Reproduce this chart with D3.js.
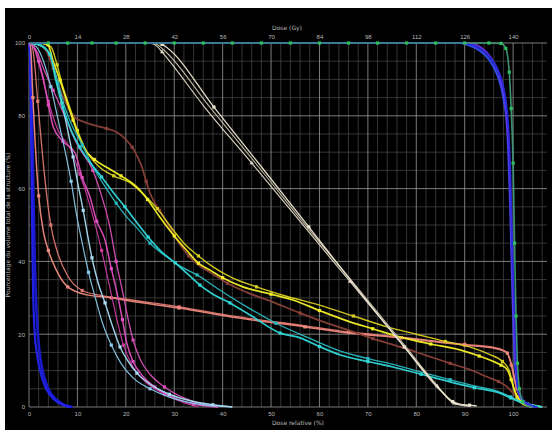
<!DOCTYPE html>
<html>
<head>
<meta charset="utf-8">
<script src="https://cdn.jsdelivr.net/npm/d3@7"></script>
<style>
body { margin: 0; background: #fff; }
svg { display: block; font-family: "DejaVu Sans", sans-serif; }
</style>
</head>
<body>
<div class="chart"></div>
<script>
const width = 552;
const height = 430;

                                        // DATA (dose %, volume %) //
const doseTicks = [0, 10, 20, 30, 40, 50, 60, 70, 80, 90, 100];
const gyTicks = [0, 14, 28, 42, 56, 70, 84, 98, 112, 126, 140];
const volTicks = [0, 20, 40, 60, 80, 100];

const blueLow1 = [[0,100],[0.2,96],[0.4,80],[0.6,55],[0.8,35],[1.1,22],[1.6,15],[2.3,10],[3.2,6],[4.5,3],[6,1.2],[7.5,0.3],[8.5,0]];
const blueLow2 = [[0,100],[0.3,97],[0.6,82],[0.9,60],[1.2,40],[1.6,25],[2.2,15],[3,9],[4,5],[5.5,2.2],[7,0.8],[8.5,0.1],[9,0]];

const coral1 = [[0,100],[0.3,99],[0.8,85],[1.3,72],[2,58],[3,48],[4,43],[5.5,38],[8,33],[12,30.8],[17,30],[20,29.3],[31,27.2],[43,24.5],[57,22],[66,20.3],[77,19],[84,17.9],[90,17],[96,16.2],[98.8,14.8],[99.8,11],[100.8,5],[102,1.5],[103,0.3],[104,0]];
const coral2 = [[0,100],[0.6,99.5],[1.1,95],[1.8,84],[2.6,72],[3.5,60],[4.5,50],[6,42],[8,36],[11,32],[15,30.6],[20,29.6],[31,27.5],[43,24.8],[57,22.3],[66,20.6],[77,19.2],[84,18.1],[90,17.2],[96,16.4],[98.6,15.2],[99.6,11.5],[100.6,5.5],[101.8,1.8],[103,0.3],[104,0]];

const magenta1 = [[0,100],[1,99],[2,95],[3,90],[4,83],[5,77],[7,73],[9.5,69.8],[11,63],[12.6,57.7],[14,51],[15.7,45.9],[17,38],[18.2,31.3],[19.3,24],[20.2,17.6],[21.5,12.5],[23,9.3],[26,5.5],[30,2.5],[34,0.8],[37,0.2],[39,0]];
const magenta2 = [[0,100],[1.5,98],[3,93],[5,87],[7.1,80.8],[10,72],[13.2,65],[15,58],[16.7,49.5],[18,40],[19.4,31.3],[20.5,24],[21.5,18.4],[23,13],[25,9],[28,5.5],[32,2.5],[36,0.7],[39,0]];
const magenta3 = [[0,100],[1.2,98],[2.5,92],[4,84],[6,76],[8.5,71],[10.5,64],[12,58],[13.5,51],[15,43],[16.5,34],[18,25],[19.5,17],[21.5,11],[24,7],[28,3.5],[32,1.2],[35,0]];

const skyBlue1 = [[0,100],[2,99.5],[4.3,96.7],[5.5,91],[6.8,83.5],[8,76],[9.1,68.7],[10,62],[11.2,54],[12,48],[13,41],[14.3,34],[15.7,28.6],[17.3,22],[18.8,16.5],[20.5,12.5],[22.3,9.3],[25,6.3],[29,3.5],[34,1.5],[38,0.6],[42,0]];
const skyBlue2 = [[0,100],[1.5,99],[3,95],[4.5,88],[6,79],[7.5,70],[8.7,62],[9.8,53],[11,45],[12.3,37],[13.7,30],[15.2,23],[17,17],[19,12],[21.5,8],[25,5],[29,2.7],[34,1],[39,0.2],[42,0]];

const yellow1 = [[0,100],[2,100],[3.9,99.5],[5,95],[6.4,89.8],[7.8,84],[9.1,78.8],[11.2,71.4],[13.5,68],[16.5,65.5],[19,63.5],[22.3,60.4],[24.5,57],[27,52.2],[30,47],[32.6,43],[35,39.5],[37.4,37.6],[40,35.5],[44.2,33],[50,31],[54.5,29.4],[60,26.5],[66.3,23.4],[71,21.5],[76.7,19.2],[83,17.3],[89,15.7],[93,14],[95.2,12.9],[97.5,11.5],[98.8,10.2],[99.6,7.5],[100.3,4.5],[101.4,1.9],[102.5,0.8],[105,0.3],[106,0]];
const yellow2 = [[0,100],[2.5,100],[4.5,99],[5.8,94],[7,88],[8.5,82],[10,76],[12,70],[14.5,66],[17.5,63.5],[21,61.5],[24,58],[26.5,54.5],[29,50],[32,45],[35,41.5],[38,38.5],[42,35.5],[47,33],[53,30.5],[60,28],[67,25],[74,22],[80,20],[86,18],[91,16.5],[95,14.5],[97.8,12.5],[99.2,10],[100,6],[100.8,2.5],[102,0.8],[104,0]];

const brown1 = [[0,100],[2,99.7],[3.5,98],[5,93],[6.5,87],[8,82.5],[9.1,80],[11,78.5],[13.2,77.5],[16,76.5],[18.4,75.3],[20,73.5],[21.3,71.4],[22.3,69],[23.3,66],[24.2,62],[25,58.8],[26,56],[27,54],[29,49.5],[31,45],[33,41.5],[35,39],[38,36.5],[41,34],[45,31.5],[50,29],[56,25.8],[61,23.3],[66.3,21],[71,18.8],[76.7,16.5],[82,14.2],[87,12],[91,10.3],[94.6,8.3],[97,7],[98.8,5.5],[100,3.8],[100.8,2.7],[102,1.5],[103,1],[104.5,0.3],[106,0]];

const cyan1 = [[0,100],[2,99.5],[4.3,97],[5.5,90],[7,82.4],[8.7,76],[10.5,71.4],[12.7,67],[15,63.2],[17.5,58.8],[19.8,55],[22.2,50.8],[24.6,46.7],[27.5,42.5],[30.2,39.6],[32.8,36.5],[35.3,33.5],[38,31],[41.5,28.6],[46,25],[51.9,20.3],[56,19],[60,16.6],[64.3,14.3],[70,12.5],[75.2,11],[81,9],[87,6.9],[92,5.3],[97.3,3.8],[99.5,2.5],[101.4,1.4],[103,0.8],[104,0.5],[106,0]];
const cyan2 = [[0,100],[2.5,99.5],[4.5,96],[6,89],[7.5,82],[9,77],[11,72],[13.2,66],[15.5,61],[18,56],[20,52.5],[22.3,49.2],[25,45],[28.5,41.2],[31.5,38.5],[34.7,36.3],[39,32.5],[45,27.5],[51,23],[57.4,19.2],[64,15.5],[70,13.3],[75,11.8],[81,9.6],[87,7.5],[92,5.8],[97,4.2],[99.5,2.8],[101.5,1.5],[103.5,0.6],[106,0]];

const white1 = [[0,100],[24,100],[25.5,99.8],[26.5,99],[27.5,97.5],[36.5,82],[46,67],[56.3,50.5],[66.3,34.5],[76.3,18.5],[84.3,5.8],[86.8,2],[87.8,1],[89.3,0.5],[91,0.3]];
const white2 = [[0,100],[26,100],[27.5,99.6],[28.6,98.6],[38.2,82.4],[48,66],[57.8,49.5],[67.5,33],[77.5,16.5],[85,4.5],[87.5,1.5],[89,0.8],[91,0.5],[92.5,0.3]];
const white3 = [[0,100],[25,100],[26.5,99.5],[27.5,98.5],[37.4,82.3],[47.4,66],[57.4,49.5],[67.4,33.5],[77.4,17.3],[84.9,5],[87.4,1.5],[88.9,0.7],[90.8,0.3]];

const green1 = [[0,100],[4,100],[8,100],[13,100],[18,100],[24,100],[30,100],[36,100],[42,100],[48,100],[54,100],[60,100],[66,100],[72,100],[78,100],[84,100],[90,100],[95,100],[97.5,99.9],[98.5,98.5],[99.2,92],[99.6,82],[100,67],[100.3,45],[100.6,25],[100.9,12],[101.3,5],[102,1.5],[103,0.3],[104,0]];

const blueHigh1 = [[0,100],[89.5,100],[91.5,99.5],[93.5,98.2],[95.3,96],[96.7,93],[97.8,89],[98.5,84],[99,77],[99.4,65],[99.7,50],[99.9,40],[100.3,25],[100.8,7.4],[101.5,3],[102.9,1],[104,0.3],[105,0]];
const blueHigh2 = [[0,100],[89,100],[91,99.3],[93,98],[95,95.5],[96.8,91],[98,85],[98.8,76],[99.4,55],[99.9,30],[100.4,12],[101.2,4],[102.5,1],[104.5,0]];
const purple1 = [[0,100],[90.5,100],[92.5,99.4],[94.5,97.5],[96.3,94],[97.6,89],[98.6,81],[99.2,68],[99.6,50],[100,30],[100.6,10],[101.5,2.5],[103,0.5],[104,0]];

// draw order and styles
const series = [
    {data: blueLow2, color: "#1a1ad8", w: 2.6, mark: 0},
    {data: blueLow1, color: "#2424f0", w: 2.2, mark: 0},
    {data: coral2, color: "#e07a70", w: 1.3, mark: 3},
    {data: coral1, color: "#f08a80", w: 1.5, mark: 2},
    {data: magenta3, color: "#c83aa0", w: 1.2, mark: 3},
    {data: magenta2, color: "#d850b8", w: 1.3, mark: 3},
    {data: magenta1, color: "#e050c0", w: 1.5, mark: 2},
    {data: skyBlue2, color: "#88c8e8", w: 1.2, mark: 3},
    {data: skyBlue1, color: "#a8dcf4", w: 1.4, mark: 2},
    {data: brown1, color: "#8a4038", w: 1.8, mark: 3},
    {data: yellow2, color: "#d8d020", w: 1.4, mark: 3},
    {data: yellow1, color: "#f4f028", w: 1.7, mark: 2},
    {data: cyan2, color: "#28b8c0", w: 1.3, mark: 3},
    {data: cyan1, color: "#30d8d8", w: 1.7, mark: 2},
    {data: white3, color: "#c8c0a8", w: 1.1, mark: 0},
    {data: white1, color: "#e0d8c4", w: 1.2, mark: 2, tri: true},
    {data: white2, color: "#ece4d0", w: 1.3, mark: 2},
    {data: blueHigh2, color: "#3050f0", w: 2.2, mark: 0},
    {data: purple1, color: "#7a30e0", w: 1.8, mark: 0},
    {data: blueHigh1, color: "#2a2ae0", w: 2.0, mark: 0},
    {data: green1, color: "#3f9a78", w: 1.6, mark: 1, markColor: "#2fc060"}
];

                                        // SVG //
const svg = d3.select(".chart")
    .append("svg")
    .attr("width", width)
    .attr("height", height)
    .attr("viewBox", [0, 0, width, height]);

svg.append("rect").attr("x", 5).attr("y", 8).attr("width", width - 5).attr("height", height - 8).attr("fill", "#000");

const x = d3.scaleLinear().domain([0, 107]).range([29, 547]);
const xGy = d3.scaleLinear().domain([0, 107 * 1.4]).range([29, 547]);
const y = d3.scaleLinear().domain([0, 100]).range([407, 43]);

                                        // GRID //
const grid = svg.append("g");
grid.selectAll(".vminor")
    .data(d3.range(0, 107, 2).filter(d => d % 10 !== 0))
    .join("line")
    .attr("x1", d => x(d)).attr("x2", d => x(d))
    .attr("y1", y(100)).attr("y2", y(0))
    .attr("stroke", "#4a4a4a").attr("stroke-width", 0.7);
grid.selectAll(".hminor")
    .data(d3.range(5, 100, 5).filter(d => d % 20 !== 0))
    .join("line")
    .attr("x1", x(0)).attr("x2", x(107))
    .attr("y1", d => y(d)).attr("y2", d => y(d))
    .attr("stroke", "#4a4a4a").attr("stroke-width", 0.7);
grid.selectAll(".vmajor")
    .data(doseTicks)
    .join("line")
    .attr("x1", d => x(d)).attr("x2", d => x(d))
    .attr("y1", y(100)).attr("y2", y(0))
    .attr("stroke", "#9a9a9a").attr("stroke-width", 0.8);
grid.selectAll(".hmajor")
    .data(volTicks)
    .join("line")
    .attr("x1", x(0)).attr("x2", x(107))
    .attr("y1", d => y(d)).attr("y2", d => y(d))
    .attr("stroke", "#9a9a9a").attr("stroke-width", 0.8);

                                        // AXES //
function styleAxis(g) {
    g.select(".domain").remove();
    g.selectAll(".tick line").remove();
    g.selectAll("text").attr("fill", "#b8b8b8").style("font-size", "6px");
}
svg.append("g")
    .attr("transform", `translate(0,${y(0) + 2})`)
    .call(d3.axisBottom(x).tickValues(doseTicks).tickSize(0).tickPadding(3))
    .call(styleAxis);
svg.append("g")
    .attr("transform", `translate(0,${y(100) - 2})`)
    .call(d3.axisTop(xGy).tickValues(gyTicks).tickSize(0).tickPadding(2))
    .call(styleAxis);
svg.append("g")
    .attr("transform", `translate(${x(0) - 3},0)`)
    .call(d3.axisLeft(y).tickValues(volTicks).tickSize(0).tickPadding(1))
    .call(styleAxis);

svg.append("text").attr("x", 287).attr("y", 30).attr("text-anchor", "middle")
    .attr("fill", "#b8b8b8").style("font-size", "6px").text("Dose (Gy)");
svg.append("text").attr("x", 272).attr("y", 425)
    .attr("fill", "#b8b8b8").style("font-size", "6px").text("Dose relative (%)");
svg.append("text")
    .attr("transform", "translate(10,225) rotate(-90)")
    .attr("text-anchor", "middle")
    .attr("fill", "#b8b8b8").style("font-size", "6px")
    .text("Pourcentage du volume total de la structure (%)");

                                        // CURVES //
const line = d3.line()
    .x(d => x(d[0]))
    .y(d => y(d[1]))
    .curve(d3.curveMonotoneX);

const curves = svg.append("g");
series.forEach(s => {
    curves.append("path")
        .datum(s.data)
        .attr("d", line)
        .attr("fill", "none")
        .attr("stroke", s.color)
        .attr("stroke-width", s.w)
        .attr("stroke-linejoin", "round")
        .attr("opacity", 0.95);

    if (s.mark > 0) {
        const pts = s.data.filter((d, i) => i > 0 && i % s.mark === 0 && d[1] > 0.4 && (d[1] < 99.8 || s.mark === 1));
        if (s.tri) {
            curves.selectAll(null)
                .data(pts)
                .join("path")
                .attr("d", d3.symbol(d3.symbolTriangle, 8))
                .attr("transform", d => `translate(${x(d[0])},${y(d[1])})`)
                .attr("fill", s.color);
        } else {
            curves.selectAll(null)
                .data(pts)
                .join("rect")
                .attr("x", d => x(d[0]) - 1.6)
                .attr("y", d => y(d[1]) - 1.6)
                .attr("width", 3.2)
                .attr("height", 3.2)
                .attr("fill", s.markColor || s.color);
        }
    }
});
</script>
</body>
</html>
